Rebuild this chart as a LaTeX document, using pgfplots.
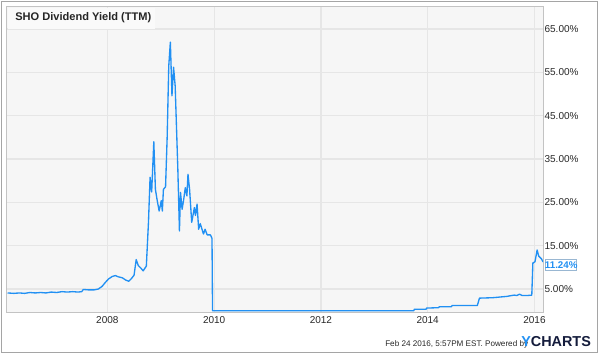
\documentclass[border=0pt]{standalone}
\usepackage{fontspec}
\setmainfont{Liberation Sans}
\usepackage{pgfplots}
\pgfplotsset{compat=1.18}
\definecolor{ybl}{RGB}{33,144,243}
\definecolor{plotbg}{RGB}{246,246,246}
\definecolor{titlebg}{RGB}{250,250,250}
\definecolor{gridgray}{RGB}{230,230,230}
\definecolor{framegray}{RGB}{195,195,195}
\definecolor{outergray}{RGB}{165,165,165}
\definecolor{tickgray}{RGB}{40,40,40}
\definecolor{navy}{RGB}{20,28,60}
\begin{document}
\begin{tikzpicture}[x=0.75pt,y=0.75pt]
\fill[white] (0,0) rectangle (600,354);
\draw[outergray, line width=0.9pt] (1.5,1.5) rectangle (597.5,352.5);
\begin{axis}[
  at={(5.25pt,31.5pt)}, anchor=south west,
  scale only axis, width=402pt, height=228.75pt,
  xmin=2006.12, xmax=2016.16, ymin=-0.3, ymax=70.1,
  axis background/.style={fill=plotbg},
  axis line style={draw=framegray, line width=0.75pt},
  grid=major, major grid style={draw=gridgray, line width=0.9pt},
  major tick length=0pt,
  xtick={2008,2010,2012,2014,2016},
  xticklabels={2008,2010,2012,2014,2016},
  ytick={5,15,25,35,45,55,65},
  yticklabels={5.00\%,15.00\%,25.00\%,35.00\%,45.00\%,55.00\%,65.00\%},
  yticklabel pos=right,
  tick label style={font=\fontsize{7.5}{9}\selectfont, text=tickgray},
  yticklabel style={anchor=west, inner xsep=1pt},
  /pgf/number format/assume math mode=true,
]
\addplot[ybl, line width=1.0pt, line join=round] coordinates {
(2006.13,4.1) (2006.25,4.0) (2006.35,4.1) (2006.45,4.0) (2006.55,4.2) (2006.65,4.1)
(2006.75,4.2) (2006.85,4.1) (2006.95,4.3) (2007.05,4.2) (2007.15,4.4) (2007.25,4.3)
(2007.35,4.4) (2007.45,4.3) (2007.52,4.4) (2007.55,4.9) (2007.65,4.8) (2007.75,4.8)
(2007.83,5.0) (2007.90,5.6) (2007.96,6.5) (2008.02,7.3) (2008.09,7.9) (2008.15,8.1)
(2008.21,7.8) (2008.28,7.6) (2008.34,7.1) (2008.40,6.8) (2008.45,7.4) (2008.50,8.2)
(2008.54,11.8) (2008.58,10.4) (2008.63,9.8) (2008.67,9.2) (2008.73,10.3) (2008.77,20.4)
(2008.80,30.8) (2008.83,27.4) (2008.87,39.0) (2008.90,28.0) (2008.93,25.7) (2008.97,23.0)
(2009.01,25.4) (2009.03,23.0) (2009.05,28.0) (2009.09,28.6) (2009.12,40.0) (2009.15,56.5)
(2009.18,62.0) (2009.21,49.6) (2009.24,56.2) (2009.27,51.9) (2009.32,32.7) (2009.35,18.4)
(2009.37,27.3) (2009.40,23.4) (2009.43,25.7) (2009.46,28.4) (2009.49,26.5) (2009.51,31.5)
(2009.54,28.0) (2009.58,20.4) (2009.63,23.8) (2009.65,22.0) (2009.68,24.6) (2009.71,18.8)
(2009.74,20.1) (2009.80,17.7) (2009.83,18.8) (2009.87,17.5) (2009.93,17.5) (2009.96,16.7)
(2009.97,0) (2013.74,0) (2013.75,0.35) (2013.97,0.35) (2013.98,0.6) (2014.20,0.7)
(2014.22,0.9) (2014.44,0.9) (2014.46,1.2) (2014.93,1.2) (2014.97,2.9) (2015.22,3.0)
(2015.48,3.3) (2015.62,3.6) (2015.67,3.5) (2015.72,3.8) (2015.77,3.5) (2015.86,3.5)
(2015.95,3.6) (2015.97,11.0) (2016.01,11.3) (2016.05,14.0) (2016.08,12.6) (2016.13,12.0)
(2016.16,11.24)
};
\end{axis}
% title box
\fill[titlebg] (7.6,346.4) rectangle (155,325);
\node[anchor=west, inner sep=0pt, font=\fontsize{8.3}{10}\selectfont\bfseries, text=black!85] at (15,336) {SHO Dividend Yield (TTM)};
% value label
\draw[fill=white, draw=ybl!45!gray!60, line width=0.6pt] (545.7,94.7) rectangle (576.7,83.7);
\node[inner sep=0pt, font=\fontsize{7.3}{9}\selectfont\bfseries, text=ybl] at (561.2,89.2) {11.24\%};
% footer
\node[anchor=base west, inner sep=0pt, font=\fontsize{6.1}{7}\selectfont, text=tickgray] at (385,8) {Feb 24 2016, 5:57PM EST. Powered by};
\node[anchor=base west, inner sep=0pt, font=\fontsize{10.8}{12}\selectfont\bfseries] at (521,7.5) {\textcolor{ybl}{Y}\textcolor{navy}{CHARTS}};
\end{tikzpicture}
\end{document}
